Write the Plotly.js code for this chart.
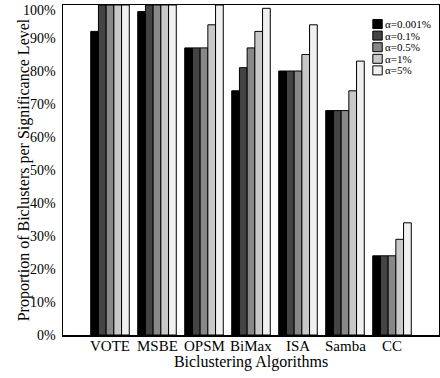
<!DOCTYPE html>
<html>
<head>
<meta charset="utf-8">
<script src="https://cdn.plot.ly/plotly-3.0.1.min.js"></script>
<style>html,body{margin:0;padding:0;background:#fff;}#chart{width:440px;height:378px;}</style>
</head>
<body>
<div id="chart"></div>
<script>
var categories = ["VOTE", "MSBE", "OPSM", "BiMax", "ISA", "Samba", "CC"];
var seriesNames = ["\u03b1=0.001%", "\u03b1=0.1%", "\u03b1=0.5%", "\u03b1=1%", "\u03b1=5%"];
var alpha0001 = [92, 98, 87, 74, 80, 68, 24];
var alpha01   = [100, 100, 87, 81, 80, 68, 24];
var alpha05   = [100, 100, 87, 87, 80, 68, 24];
var alpha1    = [100, 100, 94, 92, 85, 74, 29];
var alpha5    = [100, 100, 100, 99, 94, 83, 34];
var seriesValues = [alpha0001, alpha01, alpha05, alpha1, alpha5];
var colors = ["#000000", "#444444", "#888888", "#c8c8c8", "#f0f0f0"];
var yTickVals = [0, 10, 20, 30, 40, 50, 60, 70, 80, 90, 100];
var yTickText = ["0%", "10%", "20%", "30%", "40%", "50%", "60%", "70%", "80%", "90%", "100%"];

var serif = "Liberation Serif";
var xIdx = categories.map(function(c, k){ return k; });
var traces = seriesValues.map(function(vals, i){
  return {
    type: "bar",
    x: xIdx,
    y: vals,
    name: seriesNames[i],
    marker: {color: colors[i], line: {color: "#000", width: 1}},
    showlegend: false,
    hoverinfo: "none"
  };
});

var shapes = [], annotations = [];
var plotTop = 5, plotH = 330;
// compact legend
seriesNames.forEach(function(n, i){
  var yc = 24 + 11.6 * i;
  var y0 = (plotTop + plotH - (yc + 4.5)) / plotH;
  var y1 = (plotTop + plotH - (yc - 4.5)) / plotH;
  shapes.push({type: "rect", xref: "paper", yref: "paper", x0: 0.824, x1: 0.849, y0: y0, y1: y1,
    fillcolor: colors[i], line: {color: "#000", width: 1}});
  annotations.push({xref: "paper", yref: "paper", x: 0.852, y: (plotTop + plotH - yc) / plotH,
    xanchor: "left", yanchor: "middle", showarrow: false, text: n,
    font: {family: serif, size: 11, color: "#000"}});
});
// tick labels as serif text placed through the axes
yTickVals.forEach(function(v, i){
  annotations.push({xref: "paper", yref: "y", x: 0, y: v, xanchor: "right", yanchor: "middle",
    xshift: -5, yshift: (i === yTickVals.length - 1 ? -5 : 0), showarrow: false, text: yTickText[i],
    font: {family: serif, size: 14, color: "#000"}});
});
categories.forEach(function(c, k){
  annotations.push({xref: "x", yref: "paper", x: k, y: 0, xanchor: "center", yanchor: "top",
    yshift: -1, showarrow: false, text: c,
    font: {family: serif, size: 15, color: "#000"}});
});

var layout = {
  width: 440, height: 378,
  margin: {l: 63, r: 1, t: 5, b: 43},
  paper_bgcolor: "#fff", plot_bgcolor: "#fff",
  barmode: "group", bargap: 0.18, bargroupgap: 0,
  font: {family: serif, size: 14, color: "#000"},
  xaxis: {
    range: [-1, 7],
    tickmode: "array", tickvals: xIdx, ticktext: categories,
    showticklabels: false,
    ticks: "", showgrid: false, zeroline: false,
    showline: true, linecolor: "#000", linewidth: 1.5, mirror: true,
    title: {text: "Biclustering Algorithms", font: {family: serif, size: 16, color: "#000"}, standoff: 20}
  },
  yaxis: {
    range: [0, 100],
    tickmode: "array", tickvals: yTickVals, ticktext: yTickText,
    showticklabels: false,
    ticks: "", showgrid: false, zeroline: false,
    showline: true, linecolor: "#000", linewidth: 1.5, mirror: true,
    title: {text: "Proportion of Biclusters per Significance Level", font: {family: serif, size: 16, color: "#000"}, standoff: 28}
  },
  shapes: shapes,
  annotations: annotations
};

Plotly.newPlot("chart", traces, layout, {displayModeBar: false, staticPlot: true});
</script>
</body>
</html>
